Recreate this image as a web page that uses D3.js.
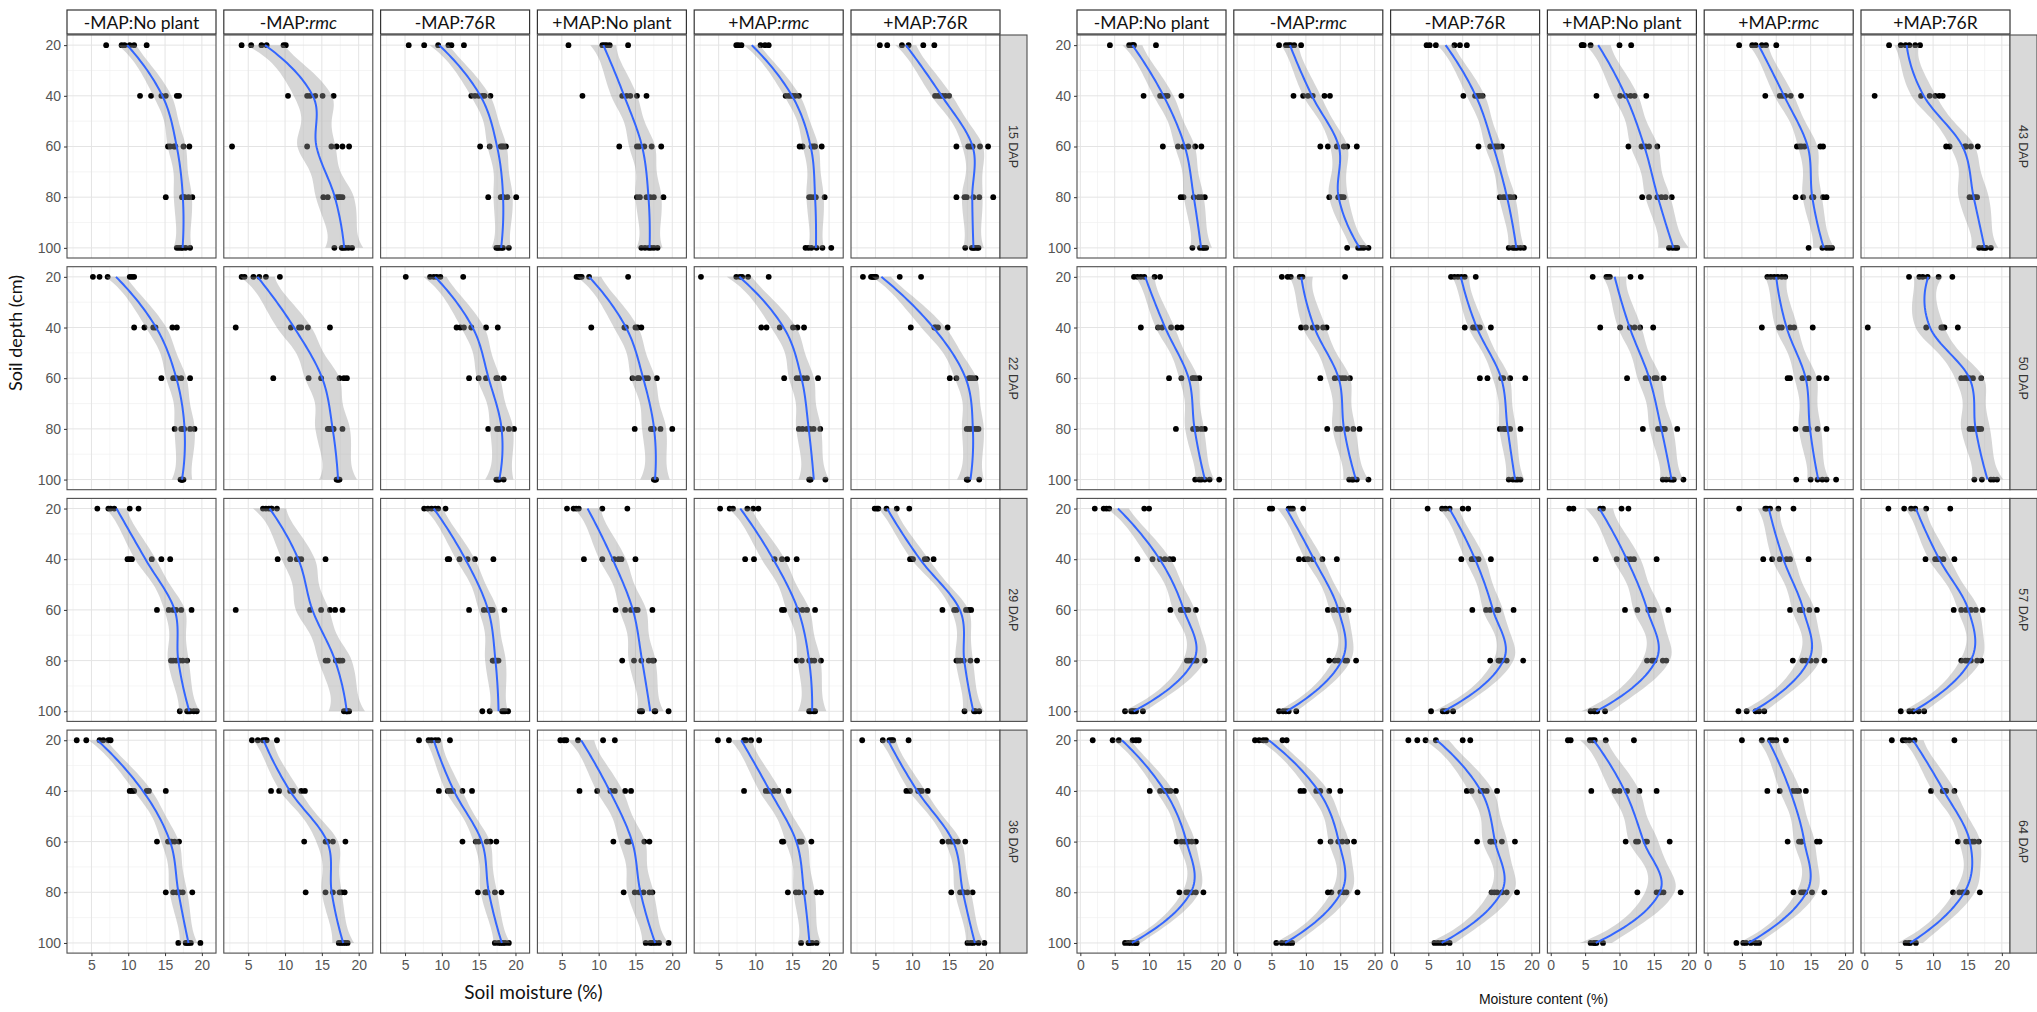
<!DOCTYPE html>
<html><head><meta charset="utf-8">
<script src="https://cdn.jsdelivr.net/npm/d3@7"></script>
<style>body{margin:0;background:#fff}svg{display:block}</style>
</head><body>
<svg id="chart" width="2037" height="1012"></svg>
<script>
// ---------- data ----------
const depths = [20, 40, 60, 80, 100];
const treatments = ["-MAP:No plant", "-MAP:rmc", "-MAP:76R", "+MAP:No plant", "+MAP:rmc", "+MAP:76R"];
const daysLeft = ["15 DAP", "22 DAP", "29 DAP", "36 DAP"];
const daysRight = ["43 DAP", "50 DAP", "57 DAP", "64 DAP"];
const xTicksLeft = [5, 10, 15, 20];
const xTicksRight = [0, 5, 10, 15, 20];
const yTicks = [20, 40, 60, 80, 100];

// each DAP: 6 treatments, each with moisture values at depths 20,40,60,80,100
const dap15 = [
 [[7.0,9.1,9.5,10.2,10.8,12.5],[11.6,13.1,14.5,15.1,16.6,16.9],[15.4,15.7,16.2,16.4,17.5,18.3],[15.1,17.3,17.5,17.7,18.2,18.7],[16.6,16.9,17.2,17.4,17.8,18.4]],
 [[4.1,5.4,6.8,7.5,9.8,10.1],[10.4,13.0,13.4,14.1,15.1,16.6],[2.8,13.0,16.3,17.0,17.8,18.7],[15.2,15.8,17.0,17.3,17.5,17.8],[16.7,17.7,17.9,18.2,18.6,19.1]],
 [[5.5,7.6,9.5,10.9,11.3,13.0],[14.0,14.5,15.0,15.5,15.8,16.6],[15.2,16.5,18.0,18.2,18.4,18.7],[16.3,18.0,18.2,18.4,18.9,20.1],[17.4,17.6,17.8,18.1,18.3,19.1]],
 [[5.9,10.5,10.8,11.1,11.5,14.0],[7.8,13.2,13.8,14.3,15.2,16.5],[12.8,15.2,15.5,16.2,17.2,18.5],[15.2,15.6,16.5,17.0,17.5,18.8],[15.8,16.3,16.8,17.1,17.5,18.0]],
 [[7.4,7.7,8.1,10.7,11.3,11.8],[14.1,14.5,14.8,15.1,15.4,15.9],[16.0,16.4,17.6,17.9,18.1,19.0],[17.3,17.6,18.0,18.2,19.4],[16.8,17.2,17.6,18.3,19.1,20.3]],
 [[5.6,6.6,8.6,9.5,11.5,13.0],[13.1,13.5,13.8,14.1,14.5,15.0],[16.0,17.6,17.9,18.2,19.2,20.3],[16.0,17.1,17.4,18.3,19.1,21.0],[17.2,18.1,18.3,18.5,18.8,19.0]]
];
const dap22 = [
 [[5.2,6.1,7.2,10.2,10.5,10.8],[10.8,12.2,13.4,13.7,16.0,16.6],[14.5,16.1,16.4,16.6,17.2,18.4],[16.3,17.2,17.4,17.6,18.4,19.0],[17.1,17.2,17.3,17.3,17.4,17.5]],
 [[4.1,4.5,5.7,6.5,7.4,9.3],[3.3,10.8,11.9,12.2,13.1,16.1],[8.4,13.2,14.9,17.4,18.0,18.4],[15.8,16.0,16.1,16.5,16.6,17.8],[17.0,17.1,17.2,17.3,17.4]],
 [[5.1,8.4,8.9,9.3,9.8,12.9],[12.0,12.5,13.0,14.0,16.0,17.6],[13.7,15.0,16.0,17.4,17.6,18.4],[16.3,17.5,17.8,18.2,19.1,19.8],[17.4,17.6,17.8,18.4]],
 [[7.0,7.3,7.5,7.7,8.7,14.0],[9.0,13.5,13.7,15.0,15.3,15.8],[14.6,15.3,15.5,16.3,16.7,17.9],[14.9,17.1,17.3,17.5,18.4,20.0],[17.5,17.6,17.7,17.8]],
 [[2.6,7.4,7.9,8.2,9.0,11.8],[10.8,11.5,13.3,15.1,15.7,16.6],[13.9,15.6,16.0,16.5,17.0,18.5],[15.9,16.4,17.0,17.4,17.9,18.8],[17.3,17.4,17.5,19.5]],
 [[3.3,4.4,4.6,4.7,4.9,5.1,8.3,11.2],[9.8,13.0,13.2,13.5,14.8],[15.1,16.0,17.7,17.9,18.2,18.6],[17.4,17.7,18.0,18.5,18.8,19.0],[17.4,17.5,17.6,19.1]]
];
const dap29 = [
 [[5.8,7.3,7.6,8.1,10.2,11.4],[9.9,10.2,10.5,13.2,14.5,15.7],[13.9,15.5,16.1,16.5,17.2,18.6],[15.8,16.1,16.5,17.0,17.4,18.0],[17.0,18.0,18.2,18.4,18.9,19.3]],
 [[7.0,7.4,7.8,8.1,8.2,8.9],[9.0,10.7,11.6,11.8,12.2,15.5],[3.3,13.4,14.9,16.1,16.8,17.8],[15.5,15.8,16.9,17.3,17.5,17.8],[18.0,18.3,18.4,18.5,18.7]],
 [[7.6,8.1,8.6,9.1,9.5,10.5],[10.8,11.0,12.4,13.5,14.5,17.0],[13.7,15.7,16.3,16.6,16.9,18.5],[16.9,17.0,17.3,17.5,17.7],[15.5,16.5,18.2,18.4,18.6,19.0]],
 [[5.7,6.6,6.95,7.3,10.5,13.9],[8.0,10.5,12.1,12.7,13.1,15.0],[12.3,13.6,14.4,15.0,15.3,17.3],[13.2,14.8,15.8,16.8,17.3,17.5],[15.6,15.8,15.9,17.6,17.7,19.5]],
 [[5.2,6.5,6.95,8.9,9.7,10.4],[8.6,9.8,12.6,13.6,14.3,15.6],[13.6,13.9,15.7,16.4,17.0,18.1],[15.6,16.3,17.3,17.6,18.0,18.9],[17.3,17.5,17.9,18.1]],
 [[4.9,5.2,5.4,6.5,7.9,9.6],[9.7,9.9,10.1,11.7,12.0,12.9],[14.1,15.7,16.0,17.3,17.7,18.0],[16.0,16.2,16.5,17.0,17.9,18.8],[17.1,18.4,18.6,19.1]]
];
const dap36 = [
 [[3.0,4.3,6.1,6.6,7.3,7.6],[10.2,10.5,10.8,12.5,12.8,15.1],[13.9,15.4,15.7,15.9,16.3,16.9],[15.1,16.1,16.6,17.0,17.4,18.7],[16.8,17.8,18.0,18.2,18.5,19.8]],
 [[5.5,6.3,7.0,7.3,7.5,8.9],[8.1,9.2,10.7,11.1,12.2,12.7],[12.6,15.5,15.8,16.5,18.2],[12.8,15.5,16.5,17.4,17.7,18.1],[17.3,17.6,17.9,18.2,18.5]],
 [[6.9,8.2,8.6,9.1,9.5,11.1],[9.6,10.8,11.1,11.5,12.8,14.1],[12.8,14.6,15.0,16.1,16.6,17.4],[14.9,15.9,16.0,16.2,17.2,18.1],[17.2,17.7,18.0,18.3,18.6,19.1]],
 [[4.8,5.3,5.6,7.2,10.6,12.2],[7.4,9.8,11.6,12.2,13.6,14.4],[12.0,13.9,14.1,14.2,16.2,16.9],[13.4,14.9,15.5,16.1,16.9,17.3],[16.4,17.0,17.3,17.7,18.2,19.5]],
 [[4.9,6.4,8.45,8.7,9.4,10.5],[8.45,11.4,11.8,12.5,13.1,14.5],[13.6,13.8,15.9,16.1,16.3,17.6],[14.4,15.5,15.9,16.6,18.3,18.9],[16.2,17.2,17.3,17.7,18.3]],
 [[3.2,6.0,6.9,7.2,7.4,9.5],[9.2,9.7,10.8,11.0,11.3,12.1],[14.1,14.9,15.3,15.6,16.2,17.2],[15.3,16.5,16.8,17.0,17.5,18.2],[17.5,17.95,18.3,19.0,19.8]]
];
const dap43 = [
 [[4.3,7.1,7.5,7.7,7.8,11.0],[9.2,11.6,12.0,12.4,12.7,14.7],[12.0,14.2,15.0,15.7,16.7,17.6],[14.6,15.0,16.5,17.2,17.6,18.1],[16.3,17.4,17.8,18.0,18.3]],
 [[6.1,7.1,7.5,7.8,8.3,9.3],[8.2,9.6,10.3,11.0,12.7,13.5],[12.1,13.2,14.5,15.5,16.0,17.4],[13.4,14.7,15.0,15.2,15.5],[16.0,17.6,18.0,18.4,19.1]],
 [[4.75,5.2,6.1,8.8,9.6,10.6],[10.1,11.8,12.2,12.5,12.9],[12.3,14.0,14.6,14.9,15.2,15.7],[15.4,15.9,16.2,16.7,17.0,17.5],[16.7,17.3,17.6,17.9,18.4,18.9]],
 [[4.5,4.6,4.8,5.8,10.0,11.7],[6.65,10.1,10.9,11.6,12.2,13.9],[11.3,13.2,13.8,14.3,15.5],[13.3,14.3,15.5,16.1,16.7,17.6],[17.2,17.7,18.1,18.4]],
 [[4.6,6.5,7.0,7.9,8.5,10.0],[8.4,10.5,10.9,11.3,12.1,13.6],[13.0,13.4,13.7,14.1,16.4,16.8],[12.8,13.9,15.2,15.4,16.8,17.3],[14.7,16.7,17.3,17.7,18.1]],
 [[3.6,5.3,6.0,6.55,7.4,8.1],[1.5,8.25,9.5,10.3,10.9,11.4],[11.9,12.4,14.6,14.8,15.5,16.5],[15.3,15.8,16.1,16.4],[16.7,17.2,17.5,17.7,18.4]]
];
const dap50 = [
 [[7.8,8.3,8.8,9.3,10.8,11.6],[8.8,11.3,11.9,13.2,14.1,14.7],[12.9,14.7,16.3,16.5,16.8,17.3],[13.9,16.4,16.7,17.0,17.6,18.1],[16.7,17.3,17.6,18.1,18.8,20.2]],
 [[6.5,7.35,7.8,9.1,9.5,15.7],[9.3,10.0,11.0,11.6,12.5,13.0],[12.1,14.2,14.9,15.3,15.7,16.4],[13.1,14.5,15.0,16.0,16.9,17.8],[16.3,16.7,16.9,17.4,19.1]],
 [[8.3,8.8,9.3,9.8,10.3,11.9],[10.3,11.5,11.8,12.1,12.5,14.1],[12.5,13.6,15.6,15.9,16.9,19.1],[15.4,15.9,16.2,16.4,16.9,18.4],[16.7,17.3,17.7,18.0,18.4]],
 [[6.1,8.1,8.3,8.6,11.6,13.1],[7.2,10.1,11.5,12.2,13.0,14.9],[11.1,13.8,14.2,15.1,15.4,16.4],[13.4,15.6,16.1,16.4,16.6,18.4],[16.3,16.8,17.4,17.7,17.9,19.3]],
 [[8.7,9.2,9.7,10.2,10.8,11.3],[7.9,10.4,10.8,12.0,12.6,15.3],[11.65,12.0,13.8,14.7,16.2,17.3],[12.8,14.2,14.4,14.7,16.0,17.3],[12.9,15.0,16.0,16.7,17.3,18.7]],
 [[6.5,8.0,8.5,9.2,10.8,12.8],[0.5,9.0,11.2,11.4,11.65,13.6],[14.1,14.6,14.9,15.3,15.8,17.0],[15.3,15.6,16.0,16.5,16.7,17.0],[16.0,17.1,18.4,18.8,19.3]]
];
const dap57 = [
 [[2.1,3.4,3.8,4.2,9.3,10.0],[8.3,10.5,11.6,12.3,13.0,13.5],[13.1,14.6,14.9,15.2,15.7,16.8],[15.5,15.8,16.2,16.5,16.9,18.1],[6.5,7.4,7.6,7.8,8.1,9.1]],
 [[4.75,5.1,7.5,7.8,8.1,9.6],[9.0,9.8,10.3,11.0,12.4,14.5],[13.2,14.0,14.7,14.95,15.3,16.2],[13.4,14.2,14.7,15.7,16.0,17.3],[6.1,6.7,7.1,7.5,8.6]],
 [[4.9,7.0,7.5,8.1,10.0,10.8],[9.8,11.3,11.5,11.8,12.3,14.1],[11.4,13.4,14.0,15.0,15.2,17.4],[14.0,15.2,15.4,15.7,16.4,18.8],[5.4,7.1,7.35,7.7,8.6]],
 [[2.7,3.3,7.2,7.6,10.3,11.3],[6.55,9.6,11.1,11.6,12.1,15.4],[10.8,12.6,14.2,14.5,15.0,17.1],[14.0,14.7,14.9,15.1,16.3,16.8],[5.8,6.3,6.4,6.75,7.9]],
 [[4.6,8.4,8.6,9.1,10.3,12.5],[8.1,9.4,10.5,11.5,12.0,14.7],[12.0,13.4,13.7,13.8,14.8,15.9],[12.4,13.8,14.3,15.0,15.8,17.0],[4.5,5.7,7.0,7.5,8.25]],
 [[3.5,5.8,6.8,7.4,9.0,12.5],[8.9,10.3,10.7,10.9,11.5,13.1],[13.0,14.1,14.8,15.5,16.2,17.2],[14.1,14.7,15.0,15.5,16.4,17.0],[5.3,6.55,7.1,7.9,8.7]]
];
const dap64 = [
 [[1.8,4.7,5.6,7.6,8.1,8.5],[10.1,11.6,12.3,12.6,13.1,13.9],[14.0,14.7,15.2,15.7,16.2,16.8],[14.4,15.4,15.7,16.2,16.8,17.9],[6.5,7.0,7.35,7.8,8.1,8.2]],
 [[2.6,3.2,3.8,4.2,6.6,7.2],[9.2,9.7,11.5,12.1,13.4,15.0],[12.1,13.6,14.7,15.3,16.0,17.0],[13.2,13.7,15.0,15.5,15.9,17.5],[5.7,6.5,7.1,7.6,8.0]],
 [[2.1,3.4,4.6,6.1,10.0,11.1],[10.6,11.3,12.6,12.9,13.5,15.0],[12.1,14.0,14.2,14.6,15.7,17.6],[14.2,14.6,15.0,15.7,16.4,17.9],[5.9,6.4,6.9,7.35,8.1]],
 [[2.5,2.9,5.7,6.1,6.4,8.0,12.1],[5.9,9.3,10.0,11.1,12.9,15.4],[10.9,12.4,12.7,13.8,14.0,17.3],[12.6,15.4,15.8,16.0,16.4,18.9],[5.8,6.3,6.4,6.65,7.6]],
 [[5.0,7.9,9.1,9.5,10.0,11.4],[8.7,10.5,12.4,12.9,13.3,14.3],[11.65,13.3,13.6,13.7,15.9,16.3],[12.5,13.6,13.9,14.2,15.2,17.0],[4.2,5.2,5.6,6.3,7.0,7.5]],
 [[4.0,5.6,6.0,6.55,7.3,13.1],[9.7,11.4,11.65,11.9,13.1],[13.6,14.8,15.3,15.7,16.0,16.65],[12.9,13.8,14.3,14.6,14.9,16.8],[6.0,6.45,6.65,7.5]]
];

// ---------- layout ----------
const PW = 149, PH = 223, PITCH_X = 156.8, PITCH_Y = 231.7, TOP = 35;
const STRIP_TOP = 10, STRIP_H = 24, RSTRIP_W = 27;
const svg = d3.select("#chart");
const tickFont = "'Liberation Sans', Arial, sans-serif";
const titleFont = "Lato, 'Open Sans', sans-serif";

const grids = [
  {left: 67, dataRows: [dap15, dap22, dap29, dap36], days: daysLeft, ticks: xTicksLeft,
   title: "Soil moisture (%)", titleSize: 19, titleY: 999, titleFont: titleFont},
  {left: 1077, dataRows: [dap43, dap50, dap57, dap64], days: daysRight, ticks: xTicksRight,
   title: "Moisture content (%)", titleSize: 14, titleY: 1004, titleFont: tickFont}
];

// loess (span .75, degree 2, interpolated surface) for depths with repeated values:
// vertex values = depth means, slopes from local quadratics, cubic Hermite between.
function tq(df) { return 1.96 + 2.4 / df + 3 / (df * df); }
function smooth(groups) {
  const m = groups.map(g => d3.mean(g)), n = groups.map(g => g.length);
  const N = d3.sum(n), K = depths.length;
  const rss = d3.sum(groups, (g, j) => d3.sum(g, v => (v - m[j]) ** 2));
  const s = Math.sqrt(rss / (N - K));
  const t = tq(N - K);
  const hstep = depths[1] - depths[0];
  const A = [[-3,4,-1,0,0],[-1,0,1,0,0],[0,-1,0,1,0],[0,0,-1,0,1],[0,0,1,-4,3]]
    .map(r => r.map(v => v / (2 * hstep)));
  const out = [];
  const d0 = depths[0], d1 = depths[K - 1];
  for (let i = 0; i < 80; i++) {
    const x = d0 + (d1 - d0) * i / 79;
    const k = Math.min(K - 2, Math.floor((x - d0) / hstep));
    const u = (x - depths[k]) / hstep;
    const h00 = 2*u**3 - 3*u**2 + 1, h10 = u**3 - 2*u**2 + u, h01 = -2*u**3 + 3*u**2, h11 = u**3 - u**2;
    const c = new Array(K).fill(0);
    c[k] += h00; c[k + 1] += h01;
    for (let j = 0; j < K; j++) c[j] += hstep * (h10 * A[k][j] + h11 * A[k + 1][j]);
    const fit = d3.sum(c, (cj, j) => cj * m[j]);
    const se = s * Math.sqrt(d3.sum(c, (cj, j) => cj * cj / n[j]));
    out.push({depth: x, fit: fit, lo: fit - t * se, hi: fit + t * se});
  }
  return out;
}

const defs = svg.append("defs");
let clipId = 0;

grids.forEach((G, gi) => {
  const all = G.dataRows.flat(3);
  const ext = d3.extent(all);
  const pad = (ext[1] - ext[0]) * 0.05;
  const x = d3.scaleLinear().domain([ext[0] - pad, ext[1] + pad]).range([0, PW]);
  const y = d3.scaleLinear().domain([16, 104]).range([0, PH]);
  const step = G.ticks[1] - G.ticks[0];
  const xMinor = d3.range(G.ticks[0] - step / 2, G.ticks[G.ticks.length - 1] + step, step)
    .filter(v => v > x.domain()[0] && v < x.domain()[1]);
  const yMinor = [30, 50, 70, 90];

  G.dataRows.forEach((rowData, r) => {
    const py = TOP + r * PITCH_Y;
    rowData.forEach((groups, c) => {
      const px = G.left + c * PITCH_X;
      const g = svg.append("g").attr("transform", `translate(${px},${py})`);
      const id = "clip" + (clipId++);
      defs.append("clipPath").attr("id", id).append("rect").attr("width", PW).attr("height", PH);
      g.append("rect").attr("width", PW).attr("height", PH).attr("fill", "#fff");
      const inner = g.append("g").attr("clip-path", `url(#${id})`);
      // minor grid
      inner.selectAll(".vm").data(xMinor).join("line").attr("class", "vm")
        .attr("x1", d => x(d)).attr("x2", d => x(d)).attr("y1", 0).attr("y2", PH)
        .attr("stroke", "#f0f0f0").attr("stroke-width", 0.7);
      inner.selectAll(".hm").data(yMinor).join("line").attr("class", "hm")
        .attr("y1", d => y(d)).attr("y2", d => y(d)).attr("x1", 0).attr("x2", PW)
        .attr("stroke", "#f0f0f0").attr("stroke-width", 0.7);
      // major grid
      inner.selectAll(".vM").data(G.ticks).join("line").attr("class", "vM")
        .attr("x1", d => x(d)).attr("x2", d => x(d)).attr("y1", 0).attr("y2", PH)
        .attr("stroke", "#e4e4e4").attr("stroke-width", 1);
      inner.selectAll(".hM").data(yTicks).join("line").attr("class", "hM")
        .attr("y1", d => y(d)).attr("y2", d => y(d)).attr("x1", 0).attr("x2", PW)
        .attr("stroke", "#e4e4e4").attr("stroke-width", 1);
      // points
      const pts = groups.flatMap((vals, j) => vals.map(v => ({depth: depths[j], v: v})));
      inner.selectAll("circle").data(pts).join("circle")
        .attr("cx", d => x(d.v)).attr("cy", d => y(d.depth)).attr("r", 2.9).attr("fill", "#000");
      // smooth
      const sm = smooth(groups);
      inner.append("path").datum(sm)
        .attr("d", d3.area().y(d => y(d.depth)).x0(d => x(d.lo)).x1(d => x(d.hi)))
        .attr("fill", "#999999").attr("fill-opacity", 0.4);
      inner.append("path").datum(sm)
        .attr("d", d3.line().y(d => y(d.depth)).x(d => x(d.fit)))
        .attr("fill", "none").attr("stroke", "#3366FF").attr("stroke-width", 2);
      g.append("rect").attr("width", PW).attr("height", PH)
        .attr("fill", "none").attr("stroke", "#4d4d4d").attr("stroke-width", 1.1);

      // axes
      if (c === 0) {
        const ax = g.append("g").call(d3.axisLeft(y).tickValues(yTicks).tickSize(3).tickPadding(3));
        ax.select(".domain").remove();
        ax.selectAll("line").attr("stroke", "#333");
        ax.selectAll("text").attr("fill", "#555").style("font-family", tickFont).style("font-size", "14px");
      }
      if (r === G.dataRows.length - 1) {
        const ax = g.append("g").attr("transform", `translate(0,${PH})`)
          .call(d3.axisBottom(x).tickValues(G.ticks).tickSize(3).tickPadding(4));
        ax.select(".domain").remove();
        ax.selectAll("line").attr("stroke", "#333");
        ax.selectAll("text").attr("fill", "#555").style("font-family", tickFont).style("font-size", "14px");
      }
      // top strips
      if (r === 0) {
        const sg = svg.append("g").attr("transform", `translate(${px},${STRIP_TOP})`);
        sg.append("rect").attr("width", PW).attr("height", STRIP_H)
          .attr("fill", "#fff").attr("stroke", "#333").attr("stroke-width", 1.2);
        const lab = treatments[c];
        const parts = lab.split(":");
        const tx = sg.append("text").attr("x", PW / 2).attr("y", STRIP_H / 2 + 6.5)
          .attr("text-anchor", "middle").style("font-family", titleFont).style("font-size", "17.5px").attr("fill", "#111");
        tx.append("tspan").text(parts[0] + ":");
        tx.append("tspan").text(parts[1]).style("font-style", parts[1] === "rmc" ? "italic" : "normal");
      }
    });
    // right strip
    const sx = G.left + 5 * PITCH_X + PW;
    const rs = svg.append("g").attr("transform", `translate(${sx},${py})`);
    rs.append("rect").attr("width", RSTRIP_W).attr("height", PH)
      .attr("fill", "#d9d9d9").attr("stroke", "#4d4d4d").attr("stroke-width", 1.1);
    rs.append("text").attr("transform", `translate(${RSTRIP_W / 2},${PH / 2}) rotate(90)`)
      .attr("text-anchor", "middle").attr("dy", "0.35em")
      .style("font-family", tickFont).style("font-size", "12.5px").attr("fill", "#333").text(G.days[r]);
  });

  // x title
  const cx = G.left + (5 * PITCH_X + PW) / 2;
  svg.append("text").attr("x", cx).attr("y", G.titleY).attr("text-anchor", "middle")
    .style("font-family", G.titleFont).style("font-size", G.titleSize + "px").attr("fill", "#111").text(G.title);
});

svg.append("text").attr("transform", "translate(22,333) rotate(-90)").attr("text-anchor", "middle")
  .style("font-family", titleFont).style("font-size", "18px").attr("fill", "#111").text("Soil depth (cm)");
</script>
</body></html>
